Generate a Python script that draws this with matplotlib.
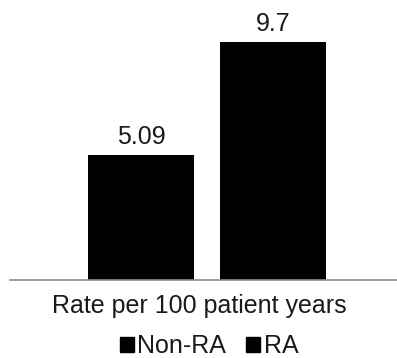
import matplotlib.pyplot as plt
from matplotlib.patches import Patch

plt.rcParams['font.family'] = ['Liberation Sans', 'DejaVu Sans']

groups = ['Non-RA', 'RA']
rates = [5.09, 9.7]
xlabel = 'Rate per 100 patient years'

fig = plt.figure(figsize=(3.97, 3.58), dpi=100)
# axes spans the plot area down to the baseline
ax = fig.add_axes([10 / 397, 1 - 280 / 358, 387 / 397, 280 / 358])

pos = [0, 1]
bars = ax.bar(pos, rates, width=0.803, color='black')
for b, v in zip(bars, rates):
    ax.annotate(f'{v:g}', (b.get_x() + b.get_width() / 2, v),
                xytext=(0, 8), textcoords='offset points',
                ha='center', va='baseline', fontsize=18, color='#1a1a1a')

ax.set_xlim(-0.992, 1.939)
ax.set_ylim(0, 11.43)
for s in ['top', 'right', 'left']:
    ax.spines[s].set_visible(False)
ax.spines['bottom'].set_color('#8c8c8c')
ax.spines['bottom'].set_linewidth(1.2)
ax.set_xticks([])
ax.set_yticks([])

fig.text(199 / 397, 1 - 313 / 358, xlabel, ha='center', va='baseline',
         fontsize=18, color='#1a1a1a')

handles = [Patch(color='black', label=g) for g in groups]
fig.legend(handles=handles, loc='center', bbox_to_anchor=(209 / 397, 1 - 346 / 358),
           ncol=2, frameon=False, fontsize=18, handlelength=0.55, handleheight=0.55,
           handletextpad=0.15, columnspacing=0.8, labelcolor='#1a1a1a',
           borderpad=0, borderaxespad=0)

fig.savefig('out.png', dpi=100)
